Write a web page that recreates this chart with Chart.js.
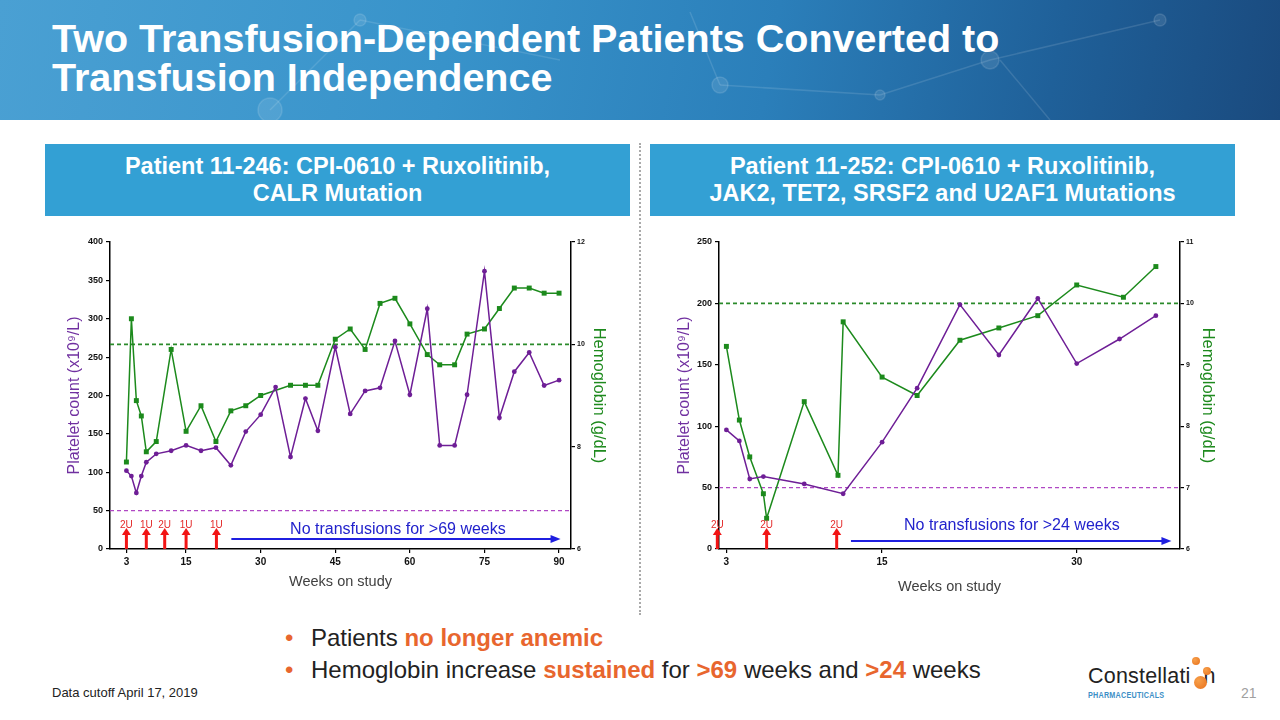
<!DOCTYPE html>
<html>
<head>
<meta charset="utf-8">
<script src="https://cdn.jsdelivr.net/npm/chart.js@4/dist/chart.umd.min.js"></script>
<style>
  body { margin: 0; width: 1280px; height: 720px; overflow: hidden; background: #fff;
         font-family: Arial, "Liberation Sans", sans-serif; position: relative; }
  .banner { position: absolute; left: 0; top: 0; width: 1280px; height: 120px;
            background: linear-gradient(100deg, #4aa0d3 0%, #3893ca 35%, #2b7fba 60%, #1f6099 82%, #1a4a7e 100%); overflow: hidden; }
  .banner svg { position: absolute; left: 0; top: 0; }
  .title { position: absolute; left: 52px; top: 19px; color: #fff; font-weight: bold;
           font-size: 39.5px; line-height: 39px; white-space: nowrap; }
  .hdr { position: absolute; top: 144px; height: 72px; background: #33a0d4; color: #fff;
         font-weight: bold; font-size: 23.5px; line-height: 27px; text-align: center;
         box-sizing: border-box; padding-top: 9px; }
  .sep { position: absolute; left: 639px; top: 143px; height: 472px; border-left: 2px dotted #aaa; }
  canvas { position: absolute; }
  .bul { position: absolute; left: 285px; font-size: 24px; line-height: 32px; color: #222; white-space: nowrap; }
  .bul .dot { color: #e8662e; display: inline-block; width: 26px; }
  .or { color: #e8662e; font-weight: bold; }
  .foot { position: absolute; left: 52px; top: 685px; font-size: 13px; color: #222; }
  .pg { position: absolute; left: 1241px; top: 685px; font-size: 14px; color: #a0a0a0; }
  .logo { position: absolute; left: 1088px; top: 664px; font-size: 21.5px; color: #222; letter-spacing: 0.2px; }
  .pharma { position: absolute; left: 1088px; top: 690px; font-size: 9px; font-weight: bold; color: #3d8fc6;
            transform: scaleX(0.8); transform-origin: left; letter-spacing: 0.3px; }
  .ball { position: absolute; border-radius: 50%; background: radial-gradient(circle at 35% 35%, #f7a04a, #e8701c); }
</style>
</head>
<body>
<div class="banner">
  <svg width="1280" height="120">
    <g stroke="#fff" stroke-opacity="0.12" stroke-width="1.5" fill="#fff" fill-opacity="0.10">
      <line x1="270" y1="110" x2="360" y2="20"/>
      <line x1="360" y1="20" x2="560" y2="60"/>
      <line x1="690" y1="12" x2="720" y2="85"/>
      <line x1="720" y1="85" x2="880" y2="95"/>
      <line x1="880" y1="95" x2="990" y2="60"/>
      <line x1="990" y1="60" x2="1160" y2="20"/>
      <line x1="1000" y1="60" x2="1050" y2="120"/>
      <circle cx="360" cy="20" r="6"/>
      <circle cx="720" cy="85" r="8"/>
      <circle cx="880" cy="95" r="5"/>
      <circle cx="990" cy="60" r="9"/>
      <circle cx="1160" cy="20" r="6"/>
      <circle cx="270" cy="110" r="12"/>
    </g>
  </svg>
  <div class="title">Two Transfusion-Dependent Patients Converted to<br>Transfusion Independence</div>
</div>

<div class="hdr" style="left:45px; width:585px;">Patient 11-246: CPI-0610 + Ruxolitinib,<br>CALR Mutation</div>
<div class="hdr" style="left:650px; width:585px;">Patient 11-252: CPI-0610 + Ruxolitinib,<br>JAK2, TET2, SRSF2 and U2AF1 Mutations</div>
<div class="sep"></div>

<canvas id="chartA" width="590" height="375" style="left:40px; top:230px;"></canvas>
<canvas id="chartB" width="590" height="375" style="left:645px; top:230px;"></canvas>

<div class="bul" style="top:622px;"><span class="dot">•</span>Patients <span class="or">no longer anemic</span></div>
<div class="bul" style="top:654px;"><span class="dot">•</span>Hemoglobin increase <span class="or">sustained</span> for <span class="or">&gt;69</span> weeks and <span class="or">&gt;24</span> weeks</div>

<div class="foot">Data cutoff April 17, 2019</div>
<div class="pg">21</div>
<div class="logo">Constellati<span style="display:inline-block;width:13px;"></span>n</div>
<div class="ball" style="left:1194px; top:676px; width:13px; height:13px;"></div>
<div class="ball" style="left:1192px; top:657px; width:8px; height:8px;"></div>
<div class="ball" style="left:1203px; top:667px; width:8px; height:8px;"></div>
<div class="pharma">PHARMACEUTICALS</div>

<script>
// Patient 11-246
const weeksA = [3, 4, 5, 6, 7, 9, 12, 15, 18, 21, 24, 27, 30, 33, 36, 39, 41.5, 45, 48, 51, 54, 57, 60, 63.5, 66, 69, 71.5, 75, 78, 81, 84, 87, 90];
const plateletsA = [102, 95, 73, 95, 113, 124, 128, 135, 128, 132, 109, 153, 175, 211, 120, 196, 154, 263, 176, 206, 210, 271, 201, 313, 135, 135, 201, 362, 171, 231, 256, 213, 220];
const hgbWeeksA = [3, 4, 5, 6, 7, 9, 12, 15, 18, 21, 24, 27, 30, 36, 39, 41.5, 45, 48, 51, 54, 57, 60, 63.5, 66, 69, 71.5, 75, 78, 81, 84, 87, 90];
const hgbA = [7.7, 10.5, 8.9, 8.6, 7.9, 8.1, 9.9, 8.3, 8.8, 8.1, 8.7, 8.8, 9.0, 9.2, 9.2, 9.2, 10.1, 10.3, 9.9, 10.8, 10.9, 10.4, 9.8, 9.6, 9.6, 10.2, 10.3, 10.7, 11.1, 11.1, 11.0, 11.0];
const xTicksA = [3, 15, 30, 45, 60, 75, 90];
const transWeeksA = [3, 7, 10.7, 15, 21.1];
const transUnitsA = ['2U', '1U', '2U', '1U', '1U'];

// Patient 11-252
const weeksB = [3, 4, 4.8, 5.85, 9, 12, 15, 17.7, 21, 24, 27, 30, 33.3, 36.1];
const plateletsB = [97, 88, 57, 59, 53, 45, 87, 131, 199, 158, 204, 151, 171, 190];
const hgbWeeksB = [3, 4, 4.8, 5.85, 6.1, 9, 11.6, 12, 15, 17.7, 21, 24, 27, 30, 33.6, 36.1];
const hgbB = [9.3, 8.1, 7.5, 6.9, 6.5, 8.4, 7.2, 9.7, 8.8, 8.5, 9.4, 9.6, 9.8, 10.3, 10.1, 10.6];
const xTicksB = [3, 15, 30];
const transWeeksB = [2.3, 6.1, 11.5];
const transUnitsB = ['2U', '2U', '2U'];

const hgbThreshold = 10;
const plateletThreshold = 50;

const PURPLE = '#6e1e96';
const GREEN = '#1c8a1c';
const FONT = 'Arial, "Liberation Sans", sans-serif';
Chart.defaults.font.family = FONT;

const toXY = (xs, ys) => xs.map((x, i) => ({ x, y: ys[i] }));

// red transfusion arrows + blue "no transfusions" arrow
const marksPlugin = {
  id: 'marks',
  afterDatasetsDraw(chart, args, o) {
    const { ctx, chartArea } = chart;
    const x = chart.scales.x, y = chart.scales.y;
    ctx.save();
    o.weeks.forEach((w, i) => {
      const px = x.getPixelForValue(w);
      const bottom = chartArea.bottom;
      const top = bottom - 21;
      ctx.strokeStyle = '#f21414';
      ctx.fillStyle = '#f21414';
      ctx.lineWidth = 3;
      ctx.beginPath(); ctx.moveTo(px, bottom); ctx.lineTo(px, top + 6); ctx.stroke();
      ctx.beginPath(); ctx.moveTo(px - 4.5, top + 7); ctx.lineTo(px, top); ctx.lineTo(px + 4.5, top + 7); ctx.closePath(); ctx.fill();
      ctx.fillStyle = '#e42a2a';
      ctx.font = '10px ' + FONT;
      ctx.textAlign = 'center';
      ctx.textBaseline = 'middle';
      ctx.fillText(o.units[i], px, top - 3);
    });
    const y0 = y.getPixelForValue(o.free.y);
    const x0 = x.getPixelForValue(o.free.from), x1 = x.getPixelForValue(o.free.to);
    ctx.strokeStyle = '#1f1fe0';
    ctx.fillStyle = '#1f1fe0';
    ctx.lineWidth = 2;
    ctx.beginPath(); ctx.moveTo(x0, y0); ctx.lineTo(x1 - 8, y0); ctx.stroke();
    ctx.beginPath(); ctx.moveTo(x1 - 10, y0 - 4); ctx.lineTo(x1, y0); ctx.lineTo(x1 - 10, y0 + 4); ctx.closePath(); ctx.fill();
    ctx.fillStyle = '#2222cc';
    ctx.font = '16px ' + FONT;
    ctx.textAlign = 'center';
    ctx.textBaseline = 'middle';
    ctx.fillText(o.free.text, x.getPixelForValue(o.free.tx), y.getPixelForValue(o.free.ty));
    ctx.restore();
  }
};

function makeChart(id, cfg) {
  const tickGrid = { drawOnChartArea: false, tickLength: 4, color: '#000', lineWidth: 1.2 };
  const border = { color: '#000', width: 1.5 };
  new Chart(document.getElementById(id), {
    type: 'line',
    data: {
      datasets: [
        {
          data: toXY(cfg.weeks, cfg.platelets), yAxisID: 'y', order: 1,
          borderColor: PURPLE, backgroundColor: PURPLE, borderWidth: 1.5,
          pointStyle: 'circle', pointRadius: 2.4, pointBorderWidth: 0
        },
        {
          data: toXY(cfg.hgbWeeks, cfg.hgb), yAxisID: 'y2', order: 1,
          borderColor: GREEN, backgroundColor: GREEN, borderWidth: 1.5,
          pointStyle: 'rect', pointRadius: 3.5, pointBorderWidth: 0
        },
        {
          data: [{ x: cfg.xMin, y: hgbThreshold }, { x: cfg.xMax, y: hgbThreshold }], yAxisID: 'y2', order: 3,
          borderColor: '#2a8a2a', borderWidth: 1.6, borderDash: [4, 3], pointRadius: 0
        },
        {
          data: [{ x: cfg.xMin, y: plateletThreshold }, { x: cfg.xMax, y: plateletThreshold }], yAxisID: 'y', order: 3,
          borderColor: '#b048c4', borderWidth: 1.4, borderDash: [4, 3], pointRadius: 0
        }
      ]
    },
    options: {
      responsive: false,
      animation: false,
      layout: { padding: { top: 12, left: 0, right: 0, bottom: 0 }, autoPadding: false },
      plugins: {
        legend: { display: false },
        tooltip: { enabled: false },
        marks: { weeks: cfg.transWeeks, units: cfg.transUnits, free: cfg.free }
      },
      scales: {
        x: {
          type: 'linear', min: cfg.xMin, max: cfg.xMax,
          afterBuildTicks: s => { s.ticks = cfg.xTicks.map(v => ({ value: v })); },
          afterFit: s => { s.height = 56; },
          grid: tickGrid, border,
          ticks: { color: '#111', font: { size: 10, weight: 'bold' }, padding: 3, maxRotation: 0 },
          title: { display: true, text: 'Weeks on study', color: '#404040', font: { size: 14.5 }, padding: { bottom: cfg.xTitlePad } }
        },
        y: {
          position: 'left', min: 0, max: cfg.yMax,
          afterFit: s => { s.width = cfg.leftW; },
          grid: tickGrid, border,
          ticks: { stepSize: 50, color: '#111', font: { size: 9, weight: 'bold' }, padding: 3 },
          title: { display: true, text: 'Platelet count (x10⁹/L)', color: '#7030a0', font: { size: 16 }, padding: { top: cfg.yTitlePad } }
        },
        y2: {
          position: 'right', min: 6, max: cfg.y2Max,
          afterFit: s => { s.width = cfg.rightW; },
          grid: tickGrid, border,
          ticks: { stepSize: cfg.y2Step, color: '#111', font: { size: 7, weight: 'bold' }, padding: 2 },
          title: { display: true, text: 'Hemoglobin (g/dL)', color: '#1e8a1e', font: { size: 16.5 }, padding: { top: cfg.y2TitlePad } }
        }
      }
    },
    plugins: [marksPlugin]
  });
}

makeChart('chartA', {
  weeks: weeksA, platelets: plateletsA, hgbWeeks: hgbWeeksA, hgb: hgbA,
  xMin: -0.3, xMax: 92.4, xTicks: xTicksA, yMax: 400, y2Max: 12, y2Step: 2,
  transWeeks: transWeeksA, transUnits: transUnitsA,
  free: { from: 24.1, to: 90.3, y: 13, text: 'No transfusions for >69 weeks', tx: 57.6, ty: 25 },
  leftW: 70, rightW: 59, xTitlePad: 14, yTitlePad: 25, y2TitlePad: 22
});

makeChart('chartB', {
  weeks: weeksB, platelets: plateletsB, hgbWeeks: hgbWeeksB, hgb: hgbB,
  xMin: 2.43, xMax: 37.96, xTicks: xTicksB, yMax: 250, y2Max: 11, y2Step: 1,
  transWeeks: transWeeksB, transUnits: transUnitsB,
  free: { from: 12.6, to: 37.3, y: 6.5, text: 'No transfusions for >24 weeks', tx: 25, ty: 19 },
  leftW: 74, rightW: 55, xTitlePad: 9, yTitlePad: 30, y2TitlePad: 18
});
</script>
</body>
</html>
